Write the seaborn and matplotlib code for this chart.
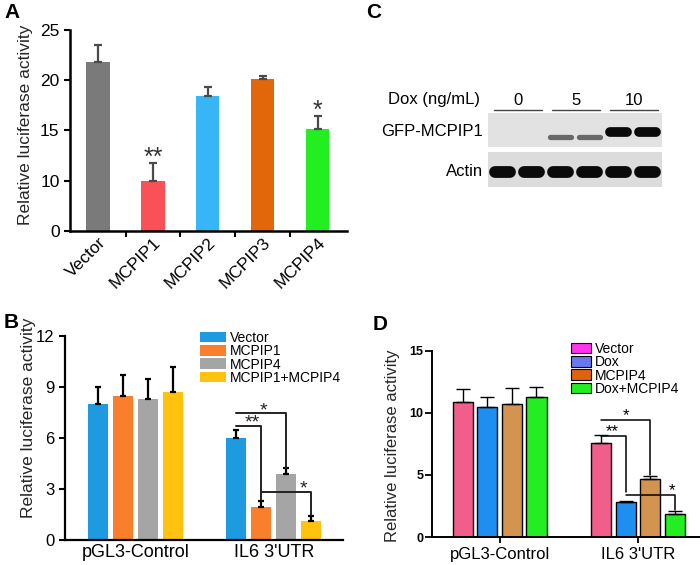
import numpy as np
import pandas as pd
import matplotlib
matplotlib.use("Agg")
import matplotlib.pyplot as plt
import seaborn as sns
from matplotlib.patches import Patch, Rectangle

sns.set_style(
    "white",
    {
        "axes.edgecolor": "0",
        "axes.spines.right": False,
        "axes.spines.top": False,
        "xtick.color": "black",
        "ytick.color": "black",
        "xtick.bottom": True,
        "ytick.left": True,
        "text.color": "black",
    }
)
plt.rcParams['font.family'] = ['Liberation Sans', 'DejaVu Sans']

# panel A (axis starts at 5 but the bottom tick is labelled 0, as in the original)
a_labels = ['Vector', 'MCPIP1', 'MCPIP2', 'MCPIP3', 'MCPIP4']
a_values = [21.8, 10.0, 18.4, 20.1, 15.1]
a_err = [1.7, 1.75, 0.9, 0.3, 1.35]
a_colors = ['#7a7a7a', '#fa5058', '#36b6f6', '#e2660a', '#22ee22']
a_stars = ['', '**', '', '', '*']
a_yticks = [5, 10, 15, 20, 25]
a_yticklabels = ['0', '10', '15', '20', '25']

# panel B
b_groups = ['pGL3-Control', "IL6 3'UTR"]
b_series = ['Vector', 'MCPIP1', 'MCPIP4', 'MCPIP1+MCPIP4']
b_values = [[8.0, 8.5, 8.3, 8.7], [6.0, 1.96, 3.86, 1.14]]
b_err = [[1.0, 1.2, 1.2, 1.5], [0.5, 0.35, 0.35, 0.25]]
b_colors = ['#1e9be0', '#f97f2c', '#a5a5a5', '#fec20f']
# (from bar, to bar, line height, end height, label, star pos along line) in group 2
b_brackets = [(0, 1, 6.72, 2.35, '**', 0.64), (0, 2, 7.45, 4.25, '*', 0.54), (1, 3, 2.84, 1.47, '*', 0.84)]

# panel C (western blot)
c_dox = ['0', '5', '10']
c_rows = ['GFP-MCPIP1', 'Actin']
c_gfp = [0, 0, 0.55, 0.55, 1.0, 1.0]
c_actin = [1.0, 1.0, 1.0, 1.0, 1.0, 1.0]

# panel D
d_groups = ['pGL3-Control', "IL6 3'UTR"]
d_series = ['Vector', 'Dox', 'MCPIP4', 'Dox+MCPIP4']
d_values = [[10.9, 10.46, 10.7, 11.3], [7.55, 2.82, 4.7, 1.83]]
d_err = [[1.0, 0.8, 1.3, 0.77], [0.65, 0.1, 0.22, 0.27]]
d_colors = ['#f25e8c', '#1e8ff0', '#d3944f', '#22ee22']
d_legend_colors = ['#ff33ee', '#6a78ee', '#e0620e', '#22ee22']
d_brackets = [(0, 1, 8.15, 3.6, '**', 0.46), (0, 2, 9.4, 5.0, '*', 0.5), (1, 3, 3.4, 2.2, '*', 0.94)]

fig = plt.figure(figsize=(7, 5.65), dpi=100)

# ---------------- A
ax_a = fig.add_axes([70/700, 1-231/565, 277/700, 201/565])
df_a = pd.DataFrame({'name': a_labels, 'val': a_values})
sns.barplot(data=df_a, x='name', y='val', hue='name', palette=a_colors, legend=False,
            width=0.42, saturation=1, ax=ax_a, edgecolor='none')
bars = sorted(ax_a.patches, key=lambda p: p.get_x())
for p, v, e, s in zip(bars, a_values, a_err, a_stars):
    xc = p.get_x() + p.get_width() / 2
    ax_a.errorbar(xc, v, yerr=[[0], [e]], color='#4a4a4a', lw=1.6, capsize=3, capthick=1.6)
    if s:
        ax_a.text(xc, v + e - 0.15, s, ha='center', va='baseline', fontsize=18, color='#333333')
ax_a.set_xlim(-0.51, 4.53)
ax_a.set_ylim(5, 25)
ax_a.set_yticks(a_yticks)
ax_a.set_yticklabels(a_yticklabels)
ax_a.set_xticks(range(5))
ax_a.set_xticklabels(a_labels, rotation=45, ha='right', rotation_mode='anchor', fontsize=12.5)
ax_a.set_xticks([0.5, 1.5, 2.5, 3.5], minor=True)
ax_a.tick_params(axis='x', which='major', length=0, pad=3)
ax_a.tick_params(axis='x', which='minor', length=4, width=1.5, direction='out')
ax_a.tick_params(axis='y', length=4, width=1.5, direction='out', labelsize=12.5)
ax_a.set_xlabel('')
ax_a.set_ylabel('Relative luciferase activity', fontsize=12.5)
ax_a.yaxis.set_label_coords(-0.134, 0.53)
for sp in ['left', 'bottom']:
    ax_a.spines[sp].set_linewidth(1.8)


def grouped(ax, groups, series, values, errs, colors, ecolor, elw, capsize, edge, width, gap):
    rows = []
    for g, vals in zip(groups, values):
        for s, v in zip(series, vals):
            rows.append({'group': g, 'series': s, 'val': v})
    df = pd.DataFrame(rows)
    sns.barplot(data=df, x='group', y='val', hue='series', palette=colors, legend=False,
                width=width, gap=gap, saturation=1, ax=ax, edgecolor=edge,
                linewidth=1.0 if edge != 'none' else 0)
    bars = sorted(ax.patches, key=lambda p: p.get_x())
    flat_v = [v for vals in values for v in vals]
    flat_e = [e for es in errs for e in es]
    xs = []
    for p, v, e in zip(bars, flat_v, flat_e):
        xc = p.get_x() + p.get_width() / 2
        xs.append(xc)
        ax.errorbar(xc, v, yerr=[[0], [e]], color=ecolor, lw=elw, capsize=capsize, capthick=elw)
    return xs


def brackets(ax, xs, items, n, fs, lw, color, drop):
    for i0, i1, yl, ye, lab, frac in items:
        x0 = xs[n + i0]
        x1 = xs[n + i1]
        ax.plot([x0, x1, x1], [yl, yl, ye], color=color, lw=lw)
        ax.text(x0 + (x1 - x0) * frac, yl - drop, lab, ha='center', va='baseline', fontsize=fs, color=color)


# ---------------- B
ax_b = fig.add_axes([65/700, 1-540/565, 278/700, 204/565])
xs_b = grouped(ax_b, b_groups, b_series, b_values, b_err, b_colors, 'black', 1.6, 2.5, 'none', 0.725, 0.2)
brackets(ax_b, xs_b, b_brackets, 4, 14, 1.4, '#222222', 0.12)
ax_b.set_xlim(-0.51, 1.5)
ax_b.set_ylim(0, 12)
ax_b.set_yticks([0, 3, 6, 9, 12])
ax_b.tick_params(axis='y', length=4, width=1.5, direction='out', labelsize=12)
ax_b.tick_params(axis='x', length=0, labelsize=13, pad=3)
ax_b.set_xlabel('')
ax_b.set_ylabel('Relative luciferase activity', fontsize=12.5)
ax_b.yaxis.set_label_coords(-0.104, 0.6)
for sp in ['left', 'bottom']:
    ax_b.spines[sp].set_linewidth(1.6)
ax_b.legend(handles=[Patch(facecolor=c, edgecolor='none', label=s) for s, c in zip(b_series, b_colors)],
            loc='upper left', bbox_to_anchor=(200/700, 1-331/565), bbox_transform=fig.transFigure,
            frameon=False, fontsize=10, handlelength=1.9, handleheight=0.8, handletextpad=0.25,
            labelspacing=-0.05, borderpad=0, borderaxespad=0)

# ---------------- C
ax_c = fig.add_axes([488/700, 1-187/565, 174/700, 74/565])
ax_c.set_xlim(0, 6)
ax_c.set_ylim(0, 2.12)
ax_c.axis('off')
ax_c.add_patch(Rectangle((0, 1.14), 6, 0.98, facecolor='#e2e2e2', edgecolor='none'))
ax_c.add_patch(Rectangle((0, 0), 6, 1.0, facecolor='#dcdcdc', edgecolor='none'))
for i, lv in enumerate(c_gfp):
    if lv > 0:
        half = 0.35 if lv < 1 else 0.3
        ax_c.plot([i + 0.5 - half, i + 0.5 + half], [1.43 if lv < 1 else 1.57] * 2,
                  lw=7.0 if lv == 1 else 3.8, solid_capstyle='round',
                  color=str(0.86 - 0.82 * lv))
for i, lv in enumerate(c_actin):
    ax_c.plot([i + 0.5 - 0.26, i + 0.5 + 0.26], [0.43, 0.43], lw=8.5, solid_capstyle='round',
              color=str(0.86 - 0.82 * lv))
for k, lab in enumerate(c_dox):
    ax_c.plot([2 * k + 0.2, 2 * k + 1.85], [2.2, 2.2], color='#444444', lw=1.0, clip_on=False)
    ax_c.text(2 * k + 1.02, 2.25, lab, ha='center', va='bottom', fontsize=12)
ax_c.text(-0.28, 2.5, 'Dox (ng/mL)', ha='right', va='center', fontsize=12)
ax_c.text(-0.17, 1.6, c_rows[0], ha='right', va='center', fontsize=12)
ax_c.text(-0.17, 0.45, c_rows[1], ha='right', va='center', fontsize=12)

# ---------------- D
ax_d = fig.add_axes([432/700, 1-537/565, 268/700, 186/565])
xs_d = grouped(ax_d, d_groups, d_series, d_values, d_err, d_colors, 'black', 1.0, 5, 'black', 0.71, 0.18)
brackets(ax_d, xs_d, d_brackets, 4, 12, 1.1, 'black', 0.0)
ax_d.set_xlim(-0.49, 1.45)
ax_d.set_ylim(0, 15)
ax_d.set_yticks([0, 5, 10, 15])
ax_d.set_yticklabels(['0', '5', '10', '15'], fontweight='bold')
ax_d.tick_params(axis='y', length=5, width=1.3, direction='out', labelsize=9, pad=1)
ax_d.tick_params(axis='x', length=4, width=1.3, direction='out', labelsize=12, pad=3)
ax_d.set_xlabel('')
ax_d.set_ylabel('Relative luciferase activity', fontsize=12)
ax_d.yaxis.set_label_coords(-0.119, 0.49)
for sp in ['left', 'bottom']:
    ax_d.spines[sp].set_linewidth(1.4)
ax_d.legend(handles=[Patch(facecolor=c, edgecolor='black', lw=0.8, label=s) for s, c in zip(d_series, d_legend_colors)],
            loc='upper left', bbox_to_anchor=(571/700, 1-342/565), bbox_transform=fig.transFigure,
            frameon=False, fontsize=10, handlelength=1.45, handleheight=0.8, handletextpad=0.3,
            labelspacing=-0.05, borderpad=0, borderaxespad=0)

# panel letters
for lab, x, y in [('A', 12, 12), ('B', 11, 323), ('C', 374, 12), ('D', 380, 325)]:
    fig.text(x / 700, 1 - y / 565, lab, fontsize=15, fontweight='bold', ha='center', va='center')

fig.savefig('out.png', dpi=100)
